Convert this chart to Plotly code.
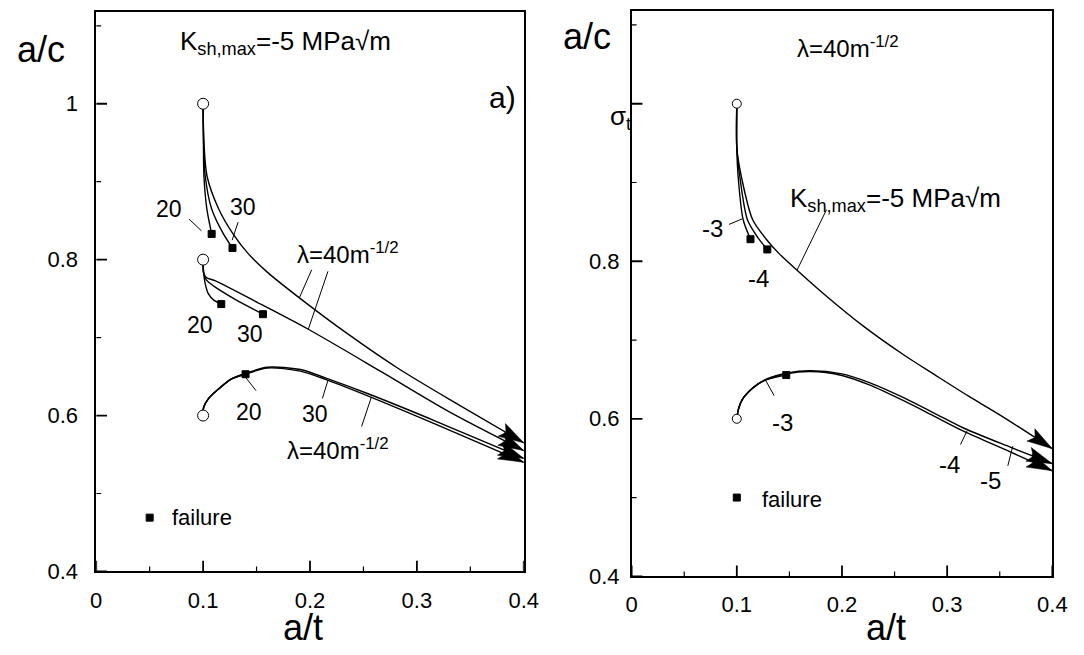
import math
import plotly.graph_objects as go

W, H = 1084, 655

# ---------------- data: left panel (a/t vs a/c), lambda series ----------------
LT20_x = [0.100, 0.1003, 0.1008, 0.1035, 0.108]
LT20_y = [1.000, 0.950, 0.907, 0.865, 0.833]
LT30_x = [0.100, 0.1005, 0.102, 0.108, 0.119, 0.1275]
LT30_y = [1.000, 0.950, 0.907, 0.865, 0.833, 0.815]
LT40_x = [0.100, 0.1008, 0.1037, 0.1146, 0.128, 0.142, 0.160, 0.191, 0.235, 0.283, 0.340, 0.400]
LT40_y = [1.000, 0.950, 0.907, 0.865, 0.833, 0.808, 0.784, 0.750, 0.705, 0.660, 0.613, 0.565]

LM20_x = [0.100, 0.1005, 0.102, 0.105, 0.110, 0.117]
LM20_y = [0.800, 0.783, 0.769, 0.756, 0.748, 0.743]
LM30_x = [0.100, 0.1005, 0.103, 0.110, 0.130, 0.156]
LM30_y = [0.800, 0.783, 0.774, 0.766, 0.749, 0.730]
LM40_x = [0.100, 0.1005, 0.103, 0.111, 0.151, 0.198, 0.267, 0.330, 0.400]
LM40_y = [0.800, 0.783, 0.777, 0.773, 0.745, 0.711, 0.656, 0.605, 0.555]

LB20_x = [0.100, 0.1006, 0.1052, 0.1144, 0.1266, 0.1397]
LB20_y = [0.600, 0.611, 0.622, 0.634, 0.647, 0.653]
LB30_x = [0.100, 0.1006, 0.1052, 0.1144, 0.1266, 0.1397, 0.160, 0.191, 0.215, 0.258, 0.319, 0.400]
LB30_y = [0.600, 0.611, 0.622, 0.634, 0.647, 0.654, 0.662, 0.659, 0.648, 0.626, 0.592, 0.545]
LB40_x = [0.100, 0.1006, 0.1052, 0.1144, 0.1266, 0.1397, 0.160, 0.191, 0.215, 0.258, 0.319, 0.400]
LB40_y = [0.600, 0.611, 0.622, 0.634, 0.647, 0.653, 0.661, 0.657, 0.646, 0.623, 0.588, 0.540]

L_start_x = [0.1, 0.1, 0.1]
L_start_y = [1.0, 0.8, 0.6]
L_legend_x = [0.05]
L_legend_y = [0.469]

# ---------------- data: right panel, K_sh,max series ----------------
RT3_x = [0.100, 0.100, 0.1013, 0.106, 0.113]
RT3_y = [1.000, 0.944, 0.907, 0.853, 0.828]
RT4_x = [0.100, 0.100, 0.1029, 0.110, 0.120, 0.129]
RT4_y = [1.000, 0.944, 0.907, 0.853, 0.830, 0.815]
RT5_x = [0.100, 0.100, 0.1044, 0.115, 0.128, 0.140, 0.157, 0.185, 0.220, 0.260, 0.288, 0.320, 0.350, 0.400]
RT5_y = [1.000, 0.944, 0.907, 0.853, 0.828, 0.810, 0.789, 0.756, 0.718, 0.680, 0.656, 0.629, 0.605, 0.562]

RB3_x = [0.100, 0.1015, 0.105, 0.111, 0.120, 0.129, 0.147]
RB3_y = [0.600, 0.612, 0.624, 0.634, 0.644, 0.650, 0.6555]
RB4_x = [0.100, 0.1015, 0.105, 0.111, 0.120, 0.129, 0.147, 0.170, 0.200, 0.226, 0.260, 0.288, 0.316, 0.360, 0.400]
RB4_y = [0.600, 0.612, 0.624, 0.634, 0.644, 0.651, 0.658, 0.661, 0.657, 0.646, 0.626, 0.607, 0.588, 0.564, 0.543]
RB5_x = [0.100, 0.1015, 0.105, 0.111, 0.120, 0.129, 0.147, 0.170, 0.200, 0.226, 0.260, 0.288, 0.316, 0.360, 0.400]
RB5_y = [0.600, 0.612, 0.624, 0.634, 0.644, 0.650, 0.657, 0.660, 0.655, 0.643, 0.622, 0.603, 0.584, 0.558, 0.534]

R_start_x = [0.1, 0.1]
R_start_y = [1.0, 0.6]
R_legend_x = [0.1]
R_legend_y = [0.5]

x_ticks = [0, 0.1, 0.2, 0.3, 0.4]
x_ticktext = ["0", "0.1", "0.2", "0.3", "0.4"]
x_minor = [0.05, 0.15, 0.25, 0.35]
y_ticks = [0.4, 0.6, 0.8, 1.0]
yL_ticktext = ["0.4", "0.6", "0.8", "1"]
yR_ticktext = ["0.4", "0.6", "0.8", ""]
y_minor = [0.5, 0.7, 0.9, 1.1]

# ---------------- layout geometry ----------------
XR = [0, 0.4]
YR = [0.4, 1.118]
L_px = (92, 528, 12, 583)     # left, right, top, bottom
R_px = (638, 1067, 11, 588)

FONT = "Liberation Sans, Arial, sans-serif"
fig = go.Figure()


def scale(px):
    l, r, t, b = px
    return (r - l) / (XR[1] - XR[0]), (b - t) / (YR[1] - YR[0])


def curve(x, y, xa, ya):
    fig.add_trace(go.Scatter(x=x, y=y, mode="lines", xaxis=xa, yaxis=ya,
                             line=dict(color="black", width=1.4, shape="spline", smoothing=0.8),
                             hoverinfo="skip", showlegend=False))


def arrow(x, y, xa, ya, px, length=26, half=7.5, notch=5):
    kx, ky = scale(px)
    X1, Y1 = x[-1] * kx, y[-1] * ky
    X0, Y0 = x[-2] * kx, y[-2] * ky
    d = math.hypot(X1 - X0, Y1 - Y0)
    ux, uy = (X1 - X0) / d, (Y1 - Y0) / d
    nx, ny = -uy, ux
    pts = [(X1, Y1),
           (X1 - length * ux + half * nx, Y1 - length * uy + half * ny),
           (X1 - (length - notch) * ux, Y1 - (length - notch) * uy),
           (X1 - length * ux - half * nx, Y1 - length * uy - half * ny),
           (X1, Y1)]
    fig.add_trace(go.Scatter(x=[p[0] / kx for p in pts], y=[p[1] / ky for p in pts],
                             mode="lines", fill="toself", fillcolor="black",
                             line=dict(color="black", width=0.5), xaxis=xa, yaxis=ya,
                             hoverinfo="skip", showlegend=False))


def markers(x, y, xa, ya, symbol, size, fill):
    fig.add_trace(go.Scatter(x=x, y=y, mode="markers", xaxis=xa, yaxis=ya,
                             marker=dict(symbol=symbol, size=size, color=fill,
                                         line=dict(color="black", width=1)),
                             hoverinfo="skip", showlegend=False, cliponaxis=False))


def tick_marks(xa, ya, px):
    """Inside tick marks along the bottom and left axes, drawn as line traces."""
    kx, ky = scale(px)
    for xv, yv, ln, wd in [(x_ticks, y_ticks, 11, 1.8), (x_minor, y_minor, 5, 1.2)]:
        tx, ty = [], []
        for v in xv:
            tx += [v, v, None]
            ty += [YR[0], YR[0] + ln / ky, None]
        for v in yv:
            tx += [XR[0], XR[0] + ln / kx, None]
            ty += [v, v, None]
        fig.add_trace(go.Scatter(x=tx, y=ty, mode="lines", xaxis=xa, yaxis=ya,
                                 line=dict(color="black", width=wd),
                                 hoverinfo="skip", showlegend=False))


tick_marks("x", "y", L_px)
tick_marks("x2", "y2", R_px)

# left panel curves
for cx, cy in [(LT20_x, LT20_y), (LT30_x, LT30_y), (LT40_x, LT40_y),
               (LM20_x, LM20_y), (LM30_x, LM30_y), (LM40_x, LM40_y),
               (LB20_x, LB20_y), (LB30_x, LB30_y), (LB40_x, LB40_y)]:
    curve(cx, cy, "x", "y")
for cx, cy in [(LT40_x, LT40_y), (LM40_x, LM40_y), (LB30_x, LB30_y), (LB40_x, LB40_y)]:
    arrow(cx, cy, "x", "y", L_px)
markers([c[-1] for c in (LT20_x, LT30_x, LM20_x, LM30_x, LB20_x)] + L_legend_x,
        [c[-1] for c in (LT20_y, LT30_y, LM20_y, LM30_y, LB20_y)] + L_legend_y,
        "x", "y", "square", 7, "black")
markers(L_start_x, L_start_y, "x", "y", "circle", 11, "white")

# right panel curves
for cx, cy in [(RT3_x, RT3_y), (RT4_x, RT4_y), (RT5_x, RT5_y),
               (RB3_x, RB3_y), (RB4_x, RB4_y), (RB5_x, RB5_y)]:
    curve(cx, cy, "x2", "y2")
for cx, cy in [(RT5_x, RT5_y), (RB4_x, RB4_y), (RB5_x, RB5_y)]:
    arrow(cx, cy, "x2", "y2", R_px)
markers([c[-1] for c in (RT3_x, RT4_x, RB3_x)] + R_legend_x,
        [c[-1] for c in (RT3_y, RT4_y, RB3_y)] + R_legend_y,
        "x2", "y2", "square", 7, "black")
markers(R_start_x, R_start_y, "x2", "y2", "circle", 9, "white")

# ---------------- annotations and leader lines ----------------
ann = []
shapes = []


def text(s, x, y, xref, yref, size=24, xanchor="center", yanchor="middle"):
    ann.append(dict(text=s, x=x, y=y, xref=xref, yref=yref, xanchor=xanchor, yanchor=yanchor,
                    showarrow=False, font=dict(family=FONT, size=size, color="black")))


def lead(x0, y0, x1, y1, xref, yref):
    shapes.append(dict(type="line", x0=x0, y0=y0, x1=x1, y1=y1, xref=xref, yref=yref,
                       line=dict(color="black", width=1)))


LAM = "λ=40m<sup>-1/2</sup>"
KSH = "K<sub>sh,max</sub>=-5 MPa√m"

# left
text("a/c", 36 / W, 1 - 50 / H, "paper", "paper", size=36)
text("a/t", 303 / W, 1 - 640 / H, "paper", "paper", size=36)
text(KSH, 0.0761, 1.079, "x", "y", size=26, xanchor="left")
text("a)", 0.3945, 1.0075, "x", "y", size=30, xanchor="right")
text("20", 0.068, 0.865, "x", "y", size=23)
lead(0.0869, 0.852, 0.0984, 0.837, "x", "y")
text("30", 0.137, 0.868, "x", "y", size=23)
lead(0.1327, 0.848, 0.1272, 0.825, "x", "y")
text(LAM, 0.186, 0.809, "x", "y", size=24, xanchor="left")
lead(0.2016, 0.787, 0.190, 0.751, "x", "y")
lead(0.2168, 0.785, 0.1985, 0.711, "x", "y")
text("20", 0.0968, 0.716, "x", "y", size=23)
text("30", 0.144, 0.704, "x", "y", size=23)
text("20", 0.143, 0.605, "x", "y", size=23)
lead(0.1495, 0.632, 0.1397, 0.649, "x", "y")
text("30", 0.2046, 0.602, "x", "y", size=23)
lead(0.2116, 0.622, 0.2168, 0.645, "x", "y")
text(LAM, 0.177, 0.557, "x", "y", size=24, xanchor="left")
lead(0.2483, 0.586, 0.2575, 0.624, "x", "y")
text("failure", 0.0688, 0.469, "x", "y", size=22, xanchor="left")

# right
text("a/c", 592 / W, 1 - 37 / H, "paper", "paper", size=36)
text("a/t", 897 / W, 1 - 640 / H, "paper", "paper", size=36)
text(LAM, 0.1557, 1.072, "x2", "y2", size=24, xanchor="left")
text("σ<sub>t</sub>", 614 / W, 1 - 120 / H, "paper", "paper", size=26, xanchor="left")
text(KSH, 0.1483, 0.8783, "x2", "y2", size=26, xanchor="left")
lead(0.1853, 0.8655, 0.1573, 0.7889, "x2", "y2")
text("-3", 0.0765, 0.8416, "x2", "y2", size=24)
lead(0.0926, 0.8468, 0.1051, 0.8538, "x2", "y2")
text("-4", 0.1203, 0.7776, "x2", "y2", size=24)
text("-3", 0.1436, 0.595, "x2", "y2", size=24)
lead(0.1355, 0.6294, 0.1277, 0.6481, "x2", "y2")
text("-4", 0.3026, 0.5416, "x2", "y2", size=24)
lead(0.3127, 0.5673, 0.3189, 0.5847, "x2", "y2")
text("-5", 0.3413, 0.5217, "x2", "y2", size=24)
lead(0.3577, 0.5404, 0.3624, 0.5652, "x2", "y2")
text("failure", 0.1221, 0.497, "x2", "y2", size=22, xanchor="left")


def xaxis(px, anchor):
    l, r, t, b = px
    return dict(domain=[l / W, r / W], range=XR, anchor=anchor, showgrid=False, zeroline=False,
                showline=True, mirror=True, linecolor="black", linewidth=1.5, ticks="",
                tickvals=x_ticks, ticktext=x_ticktext, ticklabelstandoff=8,
                tickfont=dict(family=FONT, size=22, color="black"))


def yaxis(px, anchor, ticktext, standoff):
    l, r, t, b = px
    return dict(domain=[1 - b / H, 1 - t / H], range=YR, anchor=anchor, showgrid=False, zeroline=False,
                showline=True, mirror=True, linecolor="black", linewidth=1.5, ticks="",
                tickvals=y_ticks, ticktext=ticktext, ticklabelstandoff=standoff,
                tickfont=dict(family=FONT, size=22, color="black"))


fig.update_layout(
    width=W, height=H, margin=dict(l=0, r=0, t=0, b=0),
    paper_bgcolor="white", plot_bgcolor="white", showlegend=False,
    xaxis=xaxis(L_px, "y"), yaxis=yaxis(L_px, "x", yL_ticktext, 12),
    xaxis2=xaxis(R_px, "y2"), yaxis2=yaxis(R_px, "x2", yR_ticktext, 6),
    annotations=ann, shapes=shapes,
)

fig.write_html("out.html", config={"displayModeBar": False},
               post_script="document.body.style.margin='0';document.body.style.padding='0';")
